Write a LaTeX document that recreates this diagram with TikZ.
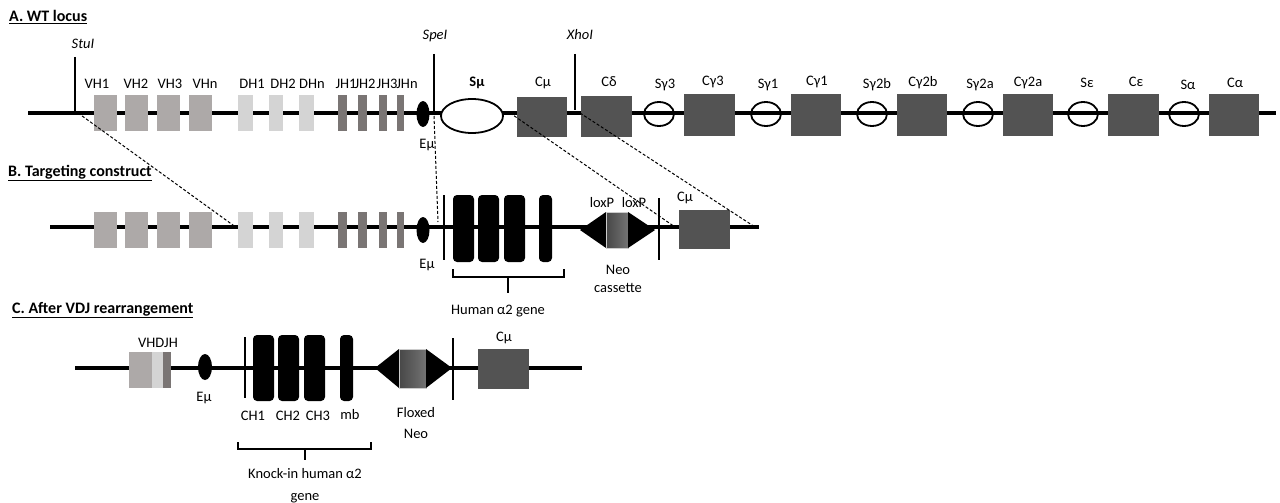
\documentclass[tikz,border=0pt]{standalone}
\usepackage{fontspec}
\setmainfont{Carlito}
\usetikzlibrary{shapes.geometric}
\definecolor{vhcol}{HTML}{ADA9A8}
\definecolor{dhcol}{HTML}{D4D4D4}
\definecolor{jhcol}{HTML}{7A7574}
\definecolor{ccol}{HTML}{535353}
\tikzset{
  dna/.style={line width=3.8pt},
  site/.style={line width=1.6pt},
  bar/.style={line width=2.6pt},
  vh/.style={fill=vhcol},
  dh/.style={fill=dhcol},
  jh/.style={fill=jhcol},
  cbox/.style={fill=ccol},
  exon/.style={fill=black,rounded corners=4pt},
  swr/.style={line width=1.8pt},
  lbl/.style={font=\fontsize{14.5}{18}\selectfont,inner sep=0pt},
  ital/.style={font=\fontsize{14.5}{18}\selectfont\itshape,inner sep=0pt},
  head/.style={font=\fontsize{16}{20}\selectfont\bfseries,inner sep=0pt,anchor=west},
  brk/.style={line width=2.4pt},
  dsh/.style={line width=1pt,dash pattern=on 3pt off 2pt},
  tri/.style={fill=black},
  neo/.style={left color=black!72,right color=black!55,draw=black!20,line width=0.8pt}
}
\begin{document}
\begin{tikzpicture}[x=1pt,y=-1pt]
\useasboundingbox (0,0) rectangle (1280,503);
% ---------- headings
\node[head] (hA) at (9,17) {\underline{A. WT locus}};
\node[head] (hB) at (8,173) {\underline{B. Targeting construct}};
\node[head] (hC) at (12,310) {\underline{C. After VDJ rearrangement}};

% ================= A ======================
\draw[dna] (28,113) -- (1276,113);
\coordinate (stuTop) at (75,57); \coordinate (stuBot) at (75,113);
\draw[site] (stuTop) -- (stuBot);
\node[ital] (stu) at (83,44) {StuI};
% VH
\foreach \a/\b in {94/117,125/148,157/180,189/212}{\fill[vh] (\a,95) rectangle (\b,131);}
\foreach \a/\b in {238/253,269/283,299/314}{\fill[dh] (\a,95) rectangle (\b,131);}
\foreach \a/\b in {338/347,358/367,379/387,397/404}{\fill[jh] (\a,95) rectangle (\b,131);}
\node[lbl] (vh1) at (97,84) {VH1};
\node[lbl] (vh2) at (136,84) {VH2};
\node[lbl] (vh3) at (170,84) {VH3};
\node[lbl] (vhn) at (205,84) {VHn};
\node[lbl] (dh1) at (252,84) {DH1};
\node[lbl] (dh2) at (283,84) {DH2};
\node[lbl] (dhn) at (312,84) {DHn};
\node[lbl] (jh1) at (346,84) {JH1};
\node[lbl] (jh2) at (365,84) {JH2};
\node[lbl] (jh3) at (387,84) {JH3};
\node[lbl] (jhn) at (407,84) {JHn};
\fill (423,114) ellipse [x radius=6.5pt,y radius=13pt];
\node[lbl] (emuA) at (427,145) {Eμ};
\coordinate (speTop) at (434,54); \coordinate (speBot) at (434,113);
\draw[site] (speTop) -- (speBot);
\node[ital] (spe) at (435,36) {SpeI};
\draw[swr,fill=white] (472,116) ellipse [x radius=31pt,y radius=17pt];
\node[lbl,font=\fontsize{14.5}{18}\selectfont\bfseries] (smu) at (477,83) {Sμ};
\fill[cbox] (517,97) rectangle (567,137);
\node[lbl] (cmuA) at (543,83) {Cμ};
\coordinate (xhoTop) at (575,54); \coordinate (xhoBot) at (575,110);
\draw[site] (xhoTop) -- (xhoBot);
\node[ital] (xho) at (580,35) {XhoI};
\fill[cbox] (581,96) rectangle (632,137);
\node[lbl] (cdel) at (609,82) {Cδ};
% switch regions and constant genes
\foreach \c in {659,766,872,978,1083,1184}{\draw[swr] (\c,114) ellipse [x radius=15pt,y radius=12pt];}
\foreach \a/\b in {684/735,791/841,897/947,1003/1053,1108/1159,1209/1259}{\fill[cbox] (\a,94) rectangle (\b,136);}
\node[lbl] (sg3) at (665,85) {Sγ3};
\node[lbl] (cg3) at (713,82) {Cγ3};
\node[lbl] (sg1) at (768,85) {Sγ1};
\node[lbl] (cg1) at (817,82) {Cγ1};
\node[lbl] (sg2b) at (877,85) {Sγ2b};
\node[lbl] (cg2b) at (923,83) {Cγ2b};
\node[lbl] (sg2a) at (980,85) {Sγ2a};
\node[lbl] (cg2a) at (1028,83) {Cγ2a};
\node[lbl] (seps) at (1087,83) {Sε};
\node[lbl] (ceps) at (1136,82) {Cε};
\node[lbl] (salp) at (1188,85) {Sα};
\node[lbl] (calp) at (1235,83) {Cα};

% ================= B ======================
\draw[dna] (50,227) -- (759,227);
\foreach \a/\b in {94/117,125/148,157/180,189/212}{\fill[vh] (\a,212) rectangle (\b,248);}
\foreach \a/\b in {238/253,269/283,299/314}{\fill[dh] (\a,212) rectangle (\b,248);}
\foreach \a/\b in {338/347,358/367,379/387,397/404}{\fill[jh] (\a,212) rectangle (\b,248);}
\fill (423,230) ellipse [x radius=6.5pt,y radius=13pt];
\node[lbl] (emuB) at (427,265) {Eμ};
\draw[bar] (444,195) -- (444,260);
\foreach \a/\b in {453/474,478/499,504/525,539/552}{\fill[exon] (\a,195) rectangle (\b,262);}
\draw[brk] (453,269) -- (453,277) -- (564,277) -- (564,269);
\draw[brk] (508,277) -- (508,293);
\node[lbl] (hum) at (498,311) {Human α2 gene};
\fill[tri] (580,230) -- (606,212) -- (606,248) -- cycle;
\shade[neo] (606,212) rectangle (628,248);
\fill[tri] (628,212) -- (655,230) -- (628,248) -- cycle;
\node[lbl] (lox1) at (602,203) {loxP};
\node[lbl] (lox2) at (634,203) {loxP};
\draw[bar] (659,198) -- (659,260);
\node[lbl,align=center] (neoB) at (618,279) {Neo\\cassette};
\fill[cbox] (679,210) rectangle (730,249);
\node[lbl] (cmuB) at (685,198) {Cμ};

% dashed homology lines
\coordinate (d1a) at (78,113); \coordinate (d1b) at (237,228);
\coordinate (d2a) at (434,116); \coordinate (d2b) at (438,222);
\coordinate (d3a) at (510,113); \coordinate (d3b) at (675,227);
\coordinate (d4a) at (580,113); \coordinate (d4b) at (755,227);
\draw[dsh] (d1a) -- (d1b);
\draw[dsh] (d2a) -- (d2b);
\draw[dsh] (d3a) -- (d3b);
\draw[dsh] (d4a) -- (d4b);

% ================= C ======================
\draw[dna] (75,368) -- (582,368);
\fill[vh] (129,352) rectangle (152,388);
\fill[dh] (152,352) rectangle (163,388);
\fill[jh] (163,352) rectangle (171,388);
\node[lbl] (vdj) at (158,343) {VHDJH};
\fill (205,367) ellipse [x radius=7pt,y radius=13pt];
\node[lbl] (emuC) at (204,398) {Eμ};
\draw[bar] (245,337) -- (245,398);
\foreach \a/\b in {253/274,278/299,304/325,340/353}{\fill[exon] (\a,335) rectangle (\b,401);}
\node[lbl] (ch1) at (253,416) {CH1};
\node[lbl] (ch2) at (288,416) {CH2};
\node[lbl] (ch3) at (318,416) {CH3};
\node[lbl] (mb) at (350,415) {mb};
\draw[brk] (238,442) -- (238,449) -- (371,449) -- (371,442);
\draw[brk] (305,449) -- (305,460);
\node[lbl,align=center,font=\fontsize{14.5}{22}\selectfont] (ki) at (305,486) {Knock-in human α2\\gene};
\fill[tri] (375,368) -- (399,349) -- (399,388) -- cycle;
\shade[neo] (399,349) rectangle (426,388);
\fill[tri] (426,349) -- (452,368) -- (426,388) -- cycle;
\draw[bar] (453,338) -- (453,400);
\node[lbl,align=center,font=\fontsize{14.5}{21}\selectfont] (flx) at (416,423) {Floxed\\Neo};
\fill[cbox] (478,349) rectangle (529,389);
\node[lbl] (cmuC) at (504,338) {Cμ};
\end{tikzpicture}
\end{document}
